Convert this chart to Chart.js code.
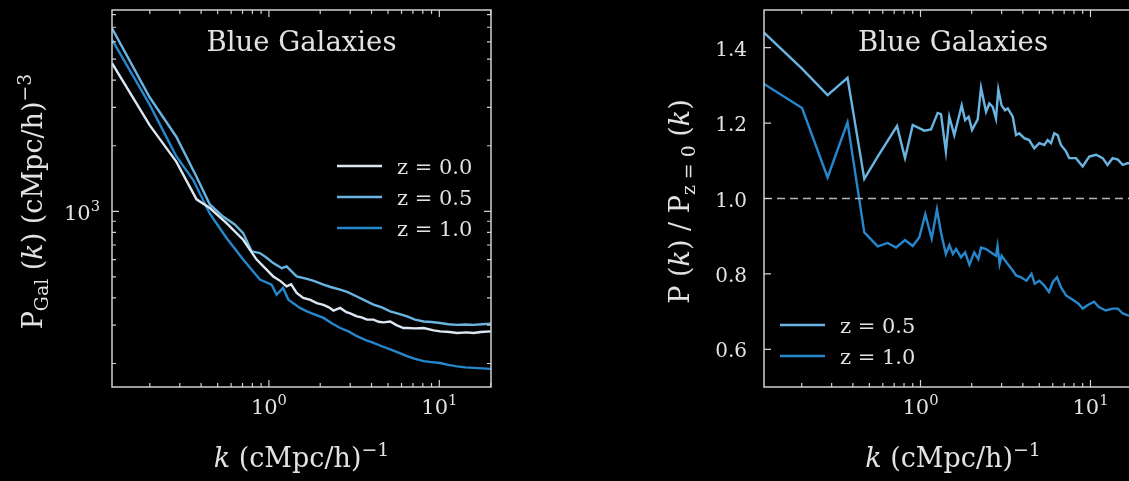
<!DOCTYPE html>
<html lang="en">
<head>
<meta charset="UTF-8">
<title>Blue Galaxies</title>
<script src="https://cdn.jsdelivr.net/npm/chart.js"></script>
<style>
  html, body { margin: 0; padding: 0; background: #000; overflow: hidden; }
  #wrap { position: relative; width: 1129px; height: 481px; overflow: hidden; background: #000; }
  canvas { position: absolute; top: 0; }
</style>
</head>
<body>
<div id="wrap">
  <canvas id="leftChart" width="560" height="481" style="left:0px"></canvas>
  <canvas id="rightChart" width="600" height="481" style="left:600px"></canvas>
</div>
<script>
// ---- left panel: galaxy power spectrum, P_Gal(k)
const kZ00 = [0.12, 0.2, 0.286, 0.376, 0.45, 0.564, 0.706, 0.847, 0.95, 1.06, 1.17, 1.27, 1.35, 1.455, 1.59, 1.75, 1.91, 2.09, 2.25, 2.39, 2.62, 2.85, 3.0, 3.28, 3.5, 3.76, 4.11, 4.4, 4.7, 5.15, 5.6, 6.16, 6.46, 7.2, 8.09, 9.27, 10.1, 11.5, 12.7, 14.5, 15.9, 17.5, 20.1];
const pZ00 = [4790, 2480, 1690, 1135, 1035, 883, 740, 600, 548, 502, 478, 452, 462, 422, 400, 392, 379, 372, 362, 350, 360, 344, 340, 329, 326, 318, 318, 311, 309, 312, 300, 291, 291, 290, 291, 284, 281, 279, 276, 278, 276, 279, 281];

const kZ05 = [0.12, 0.2, 0.286, 0.376, 0.45, 0.538, 0.63, 0.706, 0.791, 0.885, 0.97, 1.06, 1.19, 1.27, 1.455, 1.67, 1.85, 2.09, 2.3, 2.62, 2.9, 3.28, 3.6, 4.11, 4.6, 5.15, 5.8, 6.46, 7.2, 8.09, 9.0, 10.1, 11.3, 12.7, 14.2, 15.9, 17.8, 20.1];
const pZ05 = [6920, 3330, 2200, 1440, 1075, 946, 870, 794, 655, 643, 612, 578, 548, 558, 502, 489, 478, 460, 449, 437, 425, 406, 392, 373, 362, 347, 338, 329, 318, 312, 310, 307, 303, 301, 302, 301, 303, 305];

const kZ10 = [0.12, 0.2, 0.286, 0.359, 0.45, 0.564, 0.706, 0.885, 1.037, 1.11, 1.21, 1.3, 1.52, 1.67, 1.85, 2.09, 2.35, 2.62, 2.95, 3.28, 3.7, 4.11, 4.6, 5.15, 5.8, 6.46, 7.2, 8.09, 9.0, 10.1, 11.3, 12.7, 14.2, 15.9, 17.8, 20.1];
const pZ10 = [6150, 3080, 1790, 1395, 975, 754, 600, 486, 460, 414, 445, 393, 360, 347, 336, 324, 305, 291, 280, 267, 256, 249, 240, 232, 224, 216, 210, 205, 203, 201, 197, 194, 192, 191, 190, 189];

// ---- right panel: ratio P(k) / P_{z=0}(k)
const kR05 = [0.12, 0.2, 0.284, 0.372, 0.467, 0.56, 0.727, 0.811, 0.9, 1.052, 1.153, 1.262, 1.32, 1.41, 1.477, 1.58, 1.747, 1.83, 1.92, 2.01, 2.17, 2.27, 2.43, 2.54, 2.66, 2.78, 2.87, 3.0, 3.14, 3.26, 3.49, 3.65, 3.81, 4.08, 4.36, 4.67, 5.0, 5.35, 5.6, 5.86, 6.12, 6.41, 6.7, 7.18, 7.5, 8.22, 9.0, 9.84, 10.8, 11.8, 12.6, 13.5, 14.5, 15.5, 16.6, 18.0, 20.1];
const rZ05 = [1.44, 1.345, 1.274, 1.32, 1.052, 1.111, 1.192, 1.107, 1.195, 1.18, 1.183, 1.227, 1.224, 1.125, 1.217, 1.168, 1.247, 1.208, 1.217, 1.182, 1.21, 1.294, 1.23, 1.252, 1.243, 1.212, 1.289, 1.247, 1.234, 1.239, 1.217, 1.168, 1.173, 1.16, 1.155, 1.133, 1.147, 1.142, 1.155, 1.147, 1.173, 1.168, 1.142, 1.125, 1.107, 1.107, 1.085, 1.111, 1.116, 1.107, 1.089, 1.107, 1.103, 1.089, 1.094, 1.09, 1.092];

const kR10 = [0.12, 0.201, 0.284, 0.372, 0.467, 0.56, 0.641, 0.718, 0.811, 0.9, 0.984, 1.067, 1.164, 1.25, 1.32, 1.41, 1.48, 1.55, 1.62, 1.73, 1.83, 1.94, 2.07, 2.19, 2.27, 2.43, 2.6, 2.78, 2.84, 2.92, 3.0, 3.26, 3.49, 3.65, 3.9, 4.2, 4.5, 4.7, 5.0, 5.35, 5.7, 6.0, 6.35, 6.7, 7.18, 7.7, 8.5, 9.0, 9.6, 10.5, 11.2, 12.3, 13.5, 14.5, 15.5, 16.6, 18.0, 20.1];
const rZ10 = [1.304, 1.24, 1.056, 1.202, 0.91, 0.873, 0.882, 0.87, 0.89, 0.874, 0.897, 0.958, 0.894, 0.971, 0.91, 0.853, 0.876, 0.853, 0.866, 0.844, 0.857, 0.824, 0.857, 0.839, 0.87, 0.866, 0.857, 0.848, 0.874, 0.826, 0.848, 0.826, 0.809, 0.796, 0.791, 0.782, 0.8, 0.774, 0.782, 0.769, 0.752, 0.778, 0.791, 0.765, 0.743, 0.734, 0.721, 0.708, 0.717, 0.726, 0.712, 0.703, 0.708, 0.708, 0.695, 0.69, 0.688, 0.686];

const kRef = [0.12, 20.1];
const rRef = [1.0, 1.0];

const seriesLabels = ['z = 0.0', 'z = 0.5', 'z = 1.0'];
const seriesColors = ['#dbe7f3', '#6ab4e2', '#2687cc'];

// axis ticks
const xMajorTicks = [1, 10];
const xTickLabels = [['10', '0'], ['10', '1']];
const leftYMajorTicks = [1000];
const leftYTickLabels = [['10', '3']];
const rightYTicks = [0.6, 0.8, 1.0, 1.2, 1.4];
const rightYTickLabels = ['0.6', '0.8', '1.0', '1.2', '1.4'];

const TXT = '#e2e2e2';
const AXC = '#d0d0d0';
const FAM = '"DejaVu Serif", serif';

function pts(ks, vs) { return ks.map((k, i) => ({ x: k, y: vs[i] })); }

function fontFor(p, size) {
  const s = (p.sub || p.sup) ? size * 0.7 : size;
  return (p.it ? 'italic ' : '') + s.toFixed(1) + 'px ' + FAM;
}
function richWidth(ctx, parts, size) {
  let w = 0;
  for (const p of parts) { ctx.font = fontFor(p, size); w += ctx.measureText(p.t).width; }
  return w;
}
// draws rich text; align 'center' or 'right' relative to x, y is baseline
function drawRich(ctx, parts, x, y, size, align) {
  const w = richWidth(ctx, parts, size);
  let cx = align === 'right' ? x - w : x - w / 2;
  ctx.textAlign = 'left';
  ctx.textBaseline = 'alphabetic';
  for (const p of parts) {
    ctx.font = fontFor(p, size);
    const dy = p.sup ? -size * 0.42 : (p.sub ? size * 0.22 : 0);
    ctx.fillText(p.t, cx, y + dy);
    cx += ctx.measureText(p.t).width;
  }
}

function logMinor(min, max) {
  const out = [];
  for (let e = Math.floor(Math.log10(min)); e <= Math.ceil(Math.log10(max)); e++) {
    for (let m = 2; m <= 9; m++) {
      const v = m * Math.pow(10, e);
      if (v > min && v < max) out.push(v);
    }
  }
  return out;
}

// matplotlib-like decoration: spines, inward ticks on all sides, labels, title, legend
const mplDeco = {
  id: 'mplDeco',
  afterDatasetsDraw(chart, args, o) {
    const ctx = chart.ctx;
    const a = chart.chartArea;
    const xs = chart.scales.x, ys = chart.scales.y;
    ctx.save();
    ctx.strokeStyle = AXC;
    ctx.lineWidth = 1.5;
    ctx.strokeRect(a.left, a.top, a.right - a.left, a.bottom - a.top);

    const tick = (px, isX, len) => {
      ctx.beginPath();
      if (isX) {
        ctx.moveTo(px, a.bottom); ctx.lineTo(px, a.bottom - len);
        ctx.moveTo(px, a.top); ctx.lineTo(px, a.top + len);
      } else {
        ctx.moveTo(a.left, px); ctx.lineTo(a.left + len, px);
        ctx.moveTo(a.right, px); ctx.lineTo(a.right - len, px);
      }
      ctx.stroke();
    };
    ctx.lineWidth = 1.2;
    logMinor(xs.min, xs.max).forEach(v => tick(xs.getPixelForValue(v), true, 4));
    xMajorTicks.forEach(v => tick(xs.getPixelForValue(v), true, 7));
    if (o.logY) {
      logMinor(ys.min, ys.max).forEach(v => tick(ys.getPixelForValue(v), false, 4));
      leftYMajorTicks.forEach(v => tick(ys.getPixelForValue(v), false, 7));
    } else {
      rightYTicks.forEach(v => tick(ys.getPixelForValue(v), false, 7));
    }

    ctx.fillStyle = TXT;
    // x tick labels
    xMajorTicks.forEach((v, i) => {
      const lab = xTickLabels[i];
      drawRich(ctx, [{ t: lab[0] }, { t: lab[1], sup: true }], xs.getPixelForValue(v), a.bottom + 27, 21, 'center');
    });
    // y tick labels
    if (o.logY) {
      leftYMajorTicks.forEach((v, i) => {
        const lab = leftYTickLabels[i];
        drawRich(ctx, [{ t: lab[0] }, { t: lab[1], sup: true }], a.left - 12, ys.getPixelForValue(v) + 9, 21, 'right');
      });
    } else {
      rightYTicks.forEach((v, i) => {
        drawRich(ctx, [{ t: rightYTickLabels[i] }], a.left - 17, ys.getPixelForValue(v) + 8, 20, 'right');
      });
    }

    const cxm = (a.left + a.right) / 2;
    // title
    drawRich(ctx, [{ t: 'Blue Galaxies' }], cxm, a.top + 41, 27.5, 'center');
    // x axis title
    drawRich(ctx, [{ t: 'k', it: true }, { t: ' (cMpc/h)' }, { t: '\u22121', sup: true }], cxm, 467, 27, 'center');
    // y axis title
    ctx.save();
    ctx.translate(o.yTitleX, (a.top + a.bottom) / 2 + 3);
    ctx.rotate(-Math.PI / 2);
    drawRich(ctx, o.yTitle, 0, 0, 27, 'center');
    ctx.restore();

    // legend: slot index per dataset, null = not in legend
    const lg = o.legend;
    chart.data.datasets.forEach((ds, i) => {
      const slot = lg.slots[i];
      if (slot === null || slot === undefined) return;
      const y = lg.y + lg.step * slot;
      ctx.strokeStyle = ds.borderColor;
      ctx.lineWidth = 2.6;
      ctx.beginPath();
      ctx.moveTo(lg.x, y); ctx.lineTo(lg.x + 45, y);
      ctx.stroke();
      ctx.fillStyle = TXT;
      ctx.font = '21px ' + FAM;
      ctx.textAlign = 'left';
      ctx.textBaseline = 'alphabetic';
      ctx.fillText(ds.label, lg.x + 60, y + 8);
    });
    ctx.restore();
  }
};

function lineDs(label, color, data) {
  return { label: label, data: data, borderColor: color, backgroundColor: color, borderWidth: 2.4, pointRadius: 0, tension: 0, fill: false };
}

new Chart(document.getElementById('leftChart'), {
  type: 'line',
  data: {
    datasets: [
      lineDs(seriesLabels[0], seriesColors[0], pts(kZ00, pZ00)),
      lineDs(seriesLabels[1], seriesColors[1], pts(kZ05, pZ05)),
      lineDs(seriesLabels[2], seriesColors[2], pts(kZ10, pZ10))
    ]
  },
  options: {
    responsive: false,
    animation: false,
    events: [],
    layout: { padding: { left: 112, top: 10, right: 69, bottom: 94 } },
    scales: {
      x: { type: 'logarithmic', min: 0.12, max: 20.1, display: false },
      y: { type: 'logarithmic', min: 156, max: 8400, display: false }
    },
    plugins: {
      legend: { display: false },
      tooltip: { enabled: false },
      mplDeco: {
        logY: true,
        yTitleX: 42,
        yTitle: [{ t: 'P' }, { t: 'Gal', sub: true }, { t: ' (' }, { t: 'k', it: true }, { t: ') (cMpc/h)' }, { t: '\u22123', sup: true }],
        legend: { x: 337, y: 166, step: 31, slots: [0, 1, 2] }
      }
    }
  },
  plugins: [mplDeco]
});

new Chart(document.getElementById('rightChart'), {
  type: 'line',
  data: {
    datasets: [
      { data: pts(kRef, rRef), borderColor: '#b4b4b4', borderWidth: 1.6, borderDash: [8, 5], pointRadius: 0, fill: false },
      lineDs(seriesLabels[1], seriesColors[1], pts(kR05, rZ05)),
      lineDs(seriesLabels[2], seriesColors[2], pts(kR10, rZ10))
    ]
  },
  options: {
    responsive: false,
    animation: false,
    events: [],
    layout: { padding: { left: 164, top: 10, right: 58, bottom: 94 } },
    scales: {
      x: { type: 'logarithmic', min: 0.12, max: 20.1, display: false },
      y: { type: 'linear', min: 0.5, max: 1.5, display: false }
    },
    plugins: {
      legend: { display: false },
      tooltip: { enabled: false },
      mplDeco: {
        logY: false,
        yTitleX: 89,
        yTitle: [{ t: 'P (' }, { t: 'k', it: true }, { t: ') / P' }, { t: 'z = 0', sub: true }, { t: ' (' }, { t: 'k', it: true }, { t: ')' }],
        legend: { x: 180, y: 325, step: 31, slots: [null, 0, 1] }
      }
    }
  },
  plugins: [mplDeco]
});
</script>
</body>
</html>
